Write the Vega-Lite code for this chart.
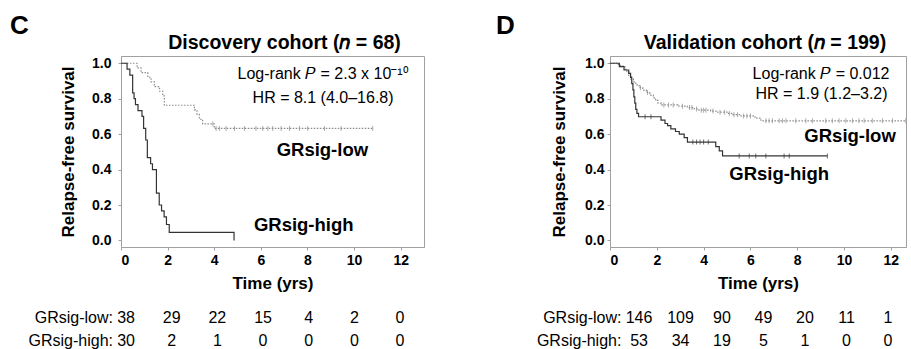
{
  "$schema": "https://vega.github.io/schema/vega-lite/v6.json",
  "padding": {"left": 10, "top": 13, "right": 0, "bottom": 0},
  "config": {
    "font": "Liberation Sans",
    "view": {"stroke": "#a0a0a0"},
    "axis": {"labelFont": "Liberation Sans", "labelFontWeight": "bold", "labelFontSize": 14, "labelColor": "black", "labelOverlap": false, "titleFont": "Liberation Sans", "titleFontSize": 17, "titleFontWeight": "bold", "titleColor": "black", "domainColor": "#a0a0a0", "tickColor": "#a0a0a0", "tickSize": 3, "grid": false},
    "title": {"font": "Liberation Sans", "color": "black"},
    "text": {"font": "Liberation Sans", "color": "black"}
  },
  "datasets": {
    "km": [
      {"panel": "C", "group": "GRsig-low", "t": 0, "s": 1},
      {"panel": "C", "group": "GRsig-low", "t": 0.69, "s": 0.974},
      {"panel": "C", "group": "GRsig-low", "t": 0.86, "s": 0.947},
      {"panel": "C", "group": "GRsig-low", "t": 1.15, "s": 0.921},
      {"panel": "C", "group": "GRsig-low", "t": 1.29, "s": 0.895},
      {"panel": "C", "group": "GRsig-low", "t": 1.43, "s": 0.868},
      {"panel": "C", "group": "GRsig-low", "t": 1.65, "s": 0.842},
      {"panel": "C", "group": "GRsig-low", "t": 1.79, "s": 0.816},
      {"panel": "C", "group": "GRsig-low", "t": 1.86, "s": 0.763},
      {"panel": "C", "group": "GRsig-low", "t": 3.15, "s": 0.737},
      {"panel": "C", "group": "GRsig-low", "t": 3.26, "s": 0.711},
      {"panel": "C", "group": "GRsig-low", "t": 3.36, "s": 0.684},
      {"panel": "C", "group": "GRsig-low", "t": 3.5, "s": 0.658},
      {"panel": "C", "group": "GRsig-low", "t": 4.0, "s": 0.632},
      {"panel": "C", "group": "GRsig-low", "t": 10.8, "s": 0.632},
      {"panel": "C", "group": "GRsig-high", "t": 0, "s": 1},
      {"panel": "C", "group": "GRsig-high", "t": 0.26, "s": 0.967},
      {"panel": "C", "group": "GRsig-high", "t": 0.38, "s": 0.933},
      {"panel": "C", "group": "GRsig-high", "t": 0.5, "s": 0.833},
      {"panel": "C", "group": "GRsig-high", "t": 0.56, "s": 0.8},
      {"panel": "C", "group": "GRsig-high", "t": 0.62, "s": 0.767},
      {"panel": "C", "group": "GRsig-high", "t": 0.73, "s": 0.733},
      {"panel": "C", "group": "GRsig-high", "t": 0.9, "s": 0.7},
      {"panel": "C", "group": "GRsig-high", "t": 0.97, "s": 0.633},
      {"panel": "C", "group": "GRsig-high", "t": 1.06, "s": 0.567},
      {"panel": "C", "group": "GRsig-high", "t": 1.13, "s": 0.467},
      {"panel": "C", "group": "GRsig-high", "t": 1.27, "s": 0.433},
      {"panel": "C", "group": "GRsig-high", "t": 1.35, "s": 0.4},
      {"panel": "C", "group": "GRsig-high", "t": 1.52, "s": 0.267},
      {"panel": "C", "group": "GRsig-high", "t": 1.64, "s": 0.2},
      {"panel": "C", "group": "GRsig-high", "t": 1.74, "s": 0.167},
      {"panel": "C", "group": "GRsig-high", "t": 1.85, "s": 0.133},
      {"panel": "C", "group": "GRsig-high", "t": 1.95, "s": 0.09},
      {"panel": "C", "group": "GRsig-high", "t": 2.07, "s": 0.045},
      {"panel": "C", "group": "GRsig-high", "t": 4.85, "s": 0.0},
      {"panel": "D", "group": "GRsig-low", "t": 0, "s": 1},
      {"panel": "D", "group": "GRsig-low", "t": 0.35, "s": 0.993},
      {"panel": "D", "group": "GRsig-low", "t": 0.45, "s": 0.986},
      {"panel": "D", "group": "GRsig-low", "t": 0.55, "s": 0.979},
      {"panel": "D", "group": "GRsig-low", "t": 0.65, "s": 0.966},
      {"panel": "D", "group": "GRsig-low", "t": 0.72, "s": 0.952},
      {"panel": "D", "group": "GRsig-low", "t": 0.8, "s": 0.925},
      {"panel": "D", "group": "GRsig-low", "t": 0.9, "s": 0.91},
      {"panel": "D", "group": "GRsig-low", "t": 1.0, "s": 0.895},
      {"panel": "D", "group": "GRsig-low", "t": 1.1, "s": 0.878},
      {"panel": "D", "group": "GRsig-low", "t": 1.25, "s": 0.862},
      {"panel": "D", "group": "GRsig-low", "t": 1.4, "s": 0.848},
      {"panel": "D", "group": "GRsig-low", "t": 1.55, "s": 0.835},
      {"panel": "D", "group": "GRsig-low", "t": 1.7, "s": 0.82},
      {"panel": "D", "group": "GRsig-low", "t": 1.85, "s": 0.805},
      {"panel": "D", "group": "GRsig-low", "t": 1.95, "s": 0.79},
      {"panel": "D", "group": "GRsig-low", "t": 2.05, "s": 0.775},
      {"panel": "D", "group": "GRsig-low", "t": 2.2, "s": 0.765},
      {"panel": "D", "group": "GRsig-low", "t": 2.9, "s": 0.758},
      {"panel": "D", "group": "GRsig-low", "t": 3.3, "s": 0.75},
      {"panel": "D", "group": "GRsig-low", "t": 3.6, "s": 0.742},
      {"panel": "D", "group": "GRsig-low", "t": 3.8, "s": 0.735},
      {"panel": "D", "group": "GRsig-low", "t": 4.3, "s": 0.73},
      {"panel": "D", "group": "GRsig-low", "t": 4.6, "s": 0.724},
      {"panel": "D", "group": "GRsig-low", "t": 5.0, "s": 0.717},
      {"panel": "D", "group": "GRsig-low", "t": 5.25, "s": 0.71},
      {"panel": "D", "group": "GRsig-low", "t": 5.6, "s": 0.703},
      {"panel": "D", "group": "GRsig-low", "t": 6.2, "s": 0.69},
      {"panel": "D", "group": "GRsig-low", "t": 6.45, "s": 0.675},
      {"panel": "D", "group": "GRsig-low", "t": 12.64, "s": 0.675},
      {"panel": "D", "group": "GRsig-high", "t": 0, "s": 1},
      {"panel": "D", "group": "GRsig-high", "t": 0.4, "s": 0.981},
      {"panel": "D", "group": "GRsig-high", "t": 0.6, "s": 0.962},
      {"panel": "D", "group": "GRsig-high", "t": 0.8, "s": 0.943},
      {"panel": "D", "group": "GRsig-high", "t": 0.88, "s": 0.92},
      {"panel": "D", "group": "GRsig-high", "t": 0.93, "s": 0.885},
      {"panel": "D", "group": "GRsig-high", "t": 0.98, "s": 0.85},
      {"panel": "D", "group": "GRsig-high", "t": 1.02, "s": 0.81},
      {"panel": "D", "group": "GRsig-high", "t": 1.06, "s": 0.775},
      {"panel": "D", "group": "GRsig-high", "t": 1.1, "s": 0.74},
      {"panel": "D", "group": "GRsig-high", "t": 1.15, "s": 0.717},
      {"panel": "D", "group": "GRsig-high", "t": 1.22, "s": 0.698},
      {"panel": "D", "group": "GRsig-high", "t": 2.18, "s": 0.679},
      {"panel": "D", "group": "GRsig-high", "t": 2.35, "s": 0.66},
      {"panel": "D", "group": "GRsig-high", "t": 2.46, "s": 0.648},
      {"panel": "D", "group": "GRsig-high", "t": 2.6, "s": 0.63},
      {"panel": "D", "group": "GRsig-high", "t": 2.8, "s": 0.615},
      {"panel": "D", "group": "GRsig-high", "t": 2.96, "s": 0.6},
      {"panel": "D", "group": "GRsig-high", "t": 3.17, "s": 0.58},
      {"panel": "D", "group": "GRsig-high", "t": 3.31, "s": 0.555},
      {"panel": "D", "group": "GRsig-high", "t": 4.52, "s": 0.53},
      {"panel": "D", "group": "GRsig-high", "t": 4.67, "s": 0.505},
      {"panel": "D", "group": "GRsig-high", "t": 4.81, "s": 0.477},
      {"panel": "D", "group": "GRsig-high", "t": 9.29, "s": 0.477}
    ],
    "cens": [
      {"panel": "C", "group": "GRsig-low", "t": 3.94, "s": 0.658},
      {"panel": "C", "group": "GRsig-low", "t": 4.08, "s": 0.632},
      {"panel": "C", "group": "GRsig-low", "t": 4.22, "s": 0.632},
      {"panel": "C", "group": "GRsig-low", "t": 4.51, "s": 0.632},
      {"panel": "C", "group": "GRsig-low", "t": 4.87, "s": 0.632},
      {"panel": "C", "group": "GRsig-low", "t": 5.3, "s": 0.632},
      {"panel": "C", "group": "GRsig-low", "t": 5.79, "s": 0.632},
      {"panel": "C", "group": "GRsig-low", "t": 6.08, "s": 0.632},
      {"panel": "C", "group": "GRsig-low", "t": 6.3, "s": 0.632},
      {"panel": "C", "group": "GRsig-low", "t": 6.51, "s": 0.632},
      {"panel": "C", "group": "GRsig-low", "t": 6.87, "s": 0.632},
      {"panel": "C", "group": "GRsig-low", "t": 7.23, "s": 0.632},
      {"panel": "C", "group": "GRsig-low", "t": 7.66, "s": 0.632},
      {"panel": "C", "group": "GRsig-low", "t": 8.01, "s": 0.632},
      {"panel": "C", "group": "GRsig-low", "t": 8.73, "s": 0.632},
      {"panel": "C", "group": "GRsig-low", "t": 9.44, "s": 0.632},
      {"panel": "C", "group": "GRsig-low", "t": 10.8, "s": 0.632},
      {"panel": "D", "group": "GRsig-high", "t": 1.5, "s": 0.698},
      {"panel": "D", "group": "GRsig-high", "t": 1.75, "s": 0.698},
      {"panel": "D", "group": "GRsig-high", "t": 3.54, "s": 0.555},
      {"panel": "D", "group": "GRsig-high", "t": 3.7, "s": 0.555},
      {"panel": "D", "group": "GRsig-high", "t": 3.85, "s": 0.555},
      {"panel": "D", "group": "GRsig-high", "t": 4.0, "s": 0.555},
      {"panel": "D", "group": "GRsig-high", "t": 4.2, "s": 0.555},
      {"panel": "D", "group": "GRsig-high", "t": 5.52, "s": 0.477},
      {"panel": "D", "group": "GRsig-high", "t": 5.95, "s": 0.477},
      {"panel": "D", "group": "GRsig-high", "t": 6.23, "s": 0.477},
      {"panel": "D", "group": "GRsig-high", "t": 6.66, "s": 0.477},
      {"panel": "D", "group": "GRsig-high", "t": 7.44, "s": 0.477},
      {"panel": "D", "group": "GRsig-high", "t": 7.66, "s": 0.477},
      {"panel": "D", "group": "GRsig-high", "t": 9.29, "s": 0.477},
      {"panel": "D", "group": "GRsig-low", "t": 1.3, "s": 0.862},
      {"panel": "D", "group": "GRsig-low", "t": 1.6, "s": 0.835},
      {"panel": "D", "group": "GRsig-low", "t": 2.3, "s": 0.765},
      {"panel": "D", "group": "GRsig-low", "t": 2.5, "s": 0.765},
      {"panel": "D", "group": "GRsig-low", "t": 2.7, "s": 0.765},
      {"panel": "D", "group": "GRsig-low", "t": 3.1, "s": 0.758},
      {"panel": "D", "group": "GRsig-low", "t": 3.4, "s": 0.75},
      {"panel": "D", "group": "GRsig-low", "t": 3.5, "s": 0.75},
      {"panel": "D", "group": "GRsig-low", "t": 3.7, "s": 0.742},
      {"panel": "D", "group": "GRsig-low", "t": 3.9, "s": 0.735},
      {"panel": "D", "group": "GRsig-low", "t": 4.0, "s": 0.735},
      {"panel": "D", "group": "GRsig-low", "t": 4.1, "s": 0.735},
      {"panel": "D", "group": "GRsig-low", "t": 4.4, "s": 0.73},
      {"panel": "D", "group": "GRsig-low", "t": 4.7, "s": 0.724},
      {"panel": "D", "group": "GRsig-low", "t": 4.9, "s": 0.724},
      {"panel": "D", "group": "GRsig-low", "t": 5.1, "s": 0.717},
      {"panel": "D", "group": "GRsig-low", "t": 5.3, "s": 0.71},
      {"panel": "D", "group": "GRsig-low", "t": 5.45, "s": 0.71},
      {"panel": "D", "group": "GRsig-low", "t": 5.7, "s": 0.703},
      {"panel": "D", "group": "GRsig-low", "t": 5.85, "s": 0.703},
      {"panel": "D", "group": "GRsig-low", "t": 6.0, "s": 0.703},
      {"panel": "D", "group": "GRsig-low", "t": 6.66, "s": 0.675},
      {"panel": "D", "group": "GRsig-low", "t": 6.8, "s": 0.675},
      {"panel": "D", "group": "GRsig-low", "t": 6.94, "s": 0.675},
      {"panel": "D", "group": "GRsig-low", "t": 7.23, "s": 0.675},
      {"panel": "D", "group": "GRsig-low", "t": 7.37, "s": 0.675},
      {"panel": "D", "group": "GRsig-low", "t": 7.52, "s": 0.675},
      {"panel": "D", "group": "GRsig-low", "t": 7.94, "s": 0.675},
      {"panel": "D", "group": "GRsig-low", "t": 8.37, "s": 0.675},
      {"panel": "D", "group": "GRsig-low", "t": 8.65, "s": 0.675},
      {"panel": "D", "group": "GRsig-low", "t": 9.22, "s": 0.675},
      {"panel": "D", "group": "GRsig-low", "t": 9.5, "s": 0.675},
      {"panel": "D", "group": "GRsig-low", "t": 9.79, "s": 0.675},
      {"panel": "D", "group": "GRsig-low", "t": 10.08, "s": 0.675},
      {"panel": "D", "group": "GRsig-low", "t": 10.36, "s": 0.675},
      {"panel": "D", "group": "GRsig-low", "t": 10.64, "s": 0.675},
      {"panel": "D", "group": "GRsig-low", "t": 10.86, "s": 0.675},
      {"panel": "D", "group": "GRsig-low", "t": 11.21, "s": 0.675},
      {"panel": "D", "group": "GRsig-low", "t": 11.64, "s": 0.675},
      {"panel": "D", "group": "GRsig-low", "t": 12.07, "s": 0.675},
      {"panel": "D", "group": "GRsig-low", "t": 12.64, "s": 0.675}
    ],
    "notes": [
      {"panel": "C", "kind": "group", "text": "GRsig-low", "t": 8.64, "s": 0.508},
      {"panel": "C", "kind": "group", "text": "GRsig-high", "t": 7.84, "s": 0.085},
      {"panel": "C", "kind": "stat", "text": "Log-rank 𝑃 = 2.3 x 10⁻¹⁰", "t": 8.67, "s": 0.938},
      {"panel": "C", "kind": "stat", "text": "HR = 8.1 (4.0–16.8)", "t": 8.67, "s": 0.802},
      {"panel": "D", "kind": "group", "text": "GRsig-low", "t": 10.26, "s": 0.59},
      {"panel": "D", "kind": "group", "text": "GRsig-high", "t": 7.23, "s": 0.376},
      {"panel": "D", "kind": "stat", "text": "Log-rank 𝑃 = 0.012", "t": 9.02, "s": 0.94},
      {"panel": "D", "kind": "stat", "text": "HR = 1.9 (1.2–3.2)", "t": 9.04, "s": 0.827}
    ],
    "risk": [
      {"panel": "C", "group": "GRsig-low", "t": 0, "n": 38},
      {"panel": "C", "group": "GRsig-low", "t": 2, "n": 29},
      {"panel": "C", "group": "GRsig-low", "t": 4, "n": 22},
      {"panel": "C", "group": "GRsig-low", "t": 6, "n": 15},
      {"panel": "C", "group": "GRsig-low", "t": 8, "n": 4},
      {"panel": "C", "group": "GRsig-low", "t": 10, "n": 2},
      {"panel": "C", "group": "GRsig-low", "t": 12, "n": 0},
      {"panel": "C", "group": "GRsig-high", "t": 0, "n": 30},
      {"panel": "C", "group": "GRsig-high", "t": 2, "n": 2},
      {"panel": "C", "group": "GRsig-high", "t": 4, "n": 1},
      {"panel": "C", "group": "GRsig-high", "t": 6, "n": 0},
      {"panel": "C", "group": "GRsig-high", "t": 8, "n": 0},
      {"panel": "C", "group": "GRsig-high", "t": 10, "n": 0},
      {"panel": "C", "group": "GRsig-high", "t": 12, "n": 0},
      {"panel": "D", "group": "GRsig-low", "t": 0, "n": 146},
      {"panel": "D", "group": "GRsig-low", "t": 2, "n": 109},
      {"panel": "D", "group": "GRsig-low", "t": 4, "n": 90},
      {"panel": "D", "group": "GRsig-low", "t": 6, "n": 49},
      {"panel": "D", "group": "GRsig-low", "t": 8, "n": 20},
      {"panel": "D", "group": "GRsig-low", "t": 10, "n": 11},
      {"panel": "D", "group": "GRsig-low", "t": 12, "n": 1},
      {"panel": "D", "group": "GRsig-high", "t": 0, "n": 53},
      {"panel": "D", "group": "GRsig-high", "t": 2, "n": 34},
      {"panel": "D", "group": "GRsig-high", "t": 4, "n": 19},
      {"panel": "D", "group": "GRsig-high", "t": 6, "n": 5},
      {"panel": "D", "group": "GRsig-high", "t": 8, "n": 1},
      {"panel": "D", "group": "GRsig-high", "t": 10, "n": 0},
      {"panel": "D", "group": "GRsig-high", "t": 12, "n": 0}
    ],
    "riskLabels": [
      {"group": "GRsig-low", "label": "GRsig-low:"},
      {"group": "GRsig-high", "label": "GRsig-high:"}
    ]
  },
  "bounds": "full",
  "spacing": 71,
  "hconcat": [
    {
      "bounds": "flush",
      "spacing": 60,
      "title": {"text": "C", "fontSize": 26, "fontWeight": "bold", "anchor": "start", "frame": "group", "dx": -111, "offset": -7},
      "vconcat": [
        {
          "width": 303,
          "height": 191,
          "title": {"text": "Discovery cohort (𝑛 = 68)", "fontSize": 19.5, "fontWeight": "bold", "anchor": "middle", "dx": 12, "offset": 3},
          "encoding": {
            "x": {"field": "t", "type": "quantitative", "scale": {"domain": [0, 13], "nice": false, "zero": false}, "axis": {"values": [0, 2, 4, 6, 8, 10, 12], "title": "Time (yrs)", "labelPadding": 3, "titlePadding": 8, "labelOverlap": false}},
            "y": {"field": "s", "type": "quantitative", "scale": {"domain": [-0.037, 1.041], "nice": false, "zero": false}, "axis": {"values": [0, 0.2, 0.4, 0.6, 0.8, 1.0], "format": ".1f", "title": "Relapse-free survival", "labelPadding": 7, "titlePadding": 14, "labelOverlap": false}}
          },
          "layer": [
            {
              "data": {"name": "km"},
              "transform": [{"filter": "datum.panel === 'C'"}],
              "mark": {"type": "line", "interpolate": "step-after", "strokeWidth": 1.2},
              "encoding": {
                "color": {"field": "group", "type": "nominal", "scale": {"domain": ["GRsig-low", "GRsig-high"], "range": ["#8a8a8a", "#333333"]}, "legend": null},
                "strokeDash": {"field": "group", "type": "nominal", "scale": {"domain": ["GRsig-low", "GRsig-high"], "range": [[1.5, 1.5], [1, 0]]}, "legend": null}
              }
            },
            {
              "data": {"name": "cens"},
              "transform": [{"filter": "datum.panel === 'C'"}],
              "mark": {"type": "tick", "orient": "vertical", "size": 5, "thickness": 1},
              "encoding": {
                "color": {"field": "group", "type": "nominal", "legend": null}
              }
            },
            {
              "data": {"name": "notes"},
              "transform": [{"filter": "datum.panel === 'C' && datum.kind === 'group'"}],
              "mark": {"type": "text", "fontSize": 18.5, "fontWeight": "bold", "baseline": "middle"},
              "encoding": {"text": {"field": "text"}}
            },
            {
              "data": {"name": "notes"},
              "transform": [{"filter": "datum.panel === 'C' && datum.kind === 'stat'"}],
              "mark": {"type": "text", "fontSize": 16, "baseline": "middle"},
              "encoding": {"text": {"field": "text"}}
            }
          ]
        },
        {
          "width": 303,
          "height": 45,
          "view": {"stroke": null},
          "encoding": {
            "y": {"field": "group", "type": "nominal", "sort": ["GRsig-low", "GRsig-high"], "axis": null}
          },
          "layer": [
            {
              "data": {"name": "risk"},
              "transform": [{"filter": "datum.panel === 'C'"}],
              "mark": {"type": "text", "fontSize": 16, "baseline": "middle"},
              "encoding": {
                "x": {"field": "t", "type": "quantitative", "scale": {"domain": [-0.22, 13.05], "nice": false, "zero": false}, "axis": null},
                "text": {"field": "n", "type": "quantitative"}
              }
            },
            {
              "data": {"name": "riskLabels"},
              "mark": {"type": "text", "fontSize": 16, "align": "right", "baseline": "middle"},
              "encoding": {
                "x": {"datum": -0.57},
                "text": {"field": "label"}
              }
            }
          ]
        }
      ]
    },
    {
      "bounds": "flush",
      "spacing": 60,
      "title": {"text": "D", "fontSize": 26, "fontWeight": "bold", "anchor": "start", "frame": "group", "dx": -114, "offset": -7},
      "vconcat": [
        {
          "width": 296,
          "height": 191,
          "title": {"text": "Validation cohort (𝑛 = 199)", "fontSize": 19.5, "fontWeight": "bold", "anchor": "middle", "dx": 7, "offset": 3},
          "encoding": {
            "x": {"field": "t", "type": "quantitative", "scale": {"domain": [0, 12.65], "nice": false, "zero": false}, "axis": {"values": [0, 2, 4, 6, 8, 10, 12], "title": "Time (yrs)", "labelPadding": 3, "titlePadding": 8, "labelOverlap": false}},
            "y": {"field": "s", "type": "quantitative", "scale": {"domain": [-0.037, 1.041], "nice": false, "zero": false}, "axis": {"values": [0, 0.2, 0.4, 0.6, 0.8, 1.0], "format": ".1f", "title": "Relapse-free survival", "labelPadding": 3, "titlePadding": 16, "labelOverlap": false}}
          },
          "layer": [
            {
              "data": {"name": "km"},
              "transform": [{"filter": "datum.panel === 'D'"}],
              "mark": {"type": "line", "interpolate": "step-after", "strokeWidth": 1.2},
              "encoding": {
                "color": {"field": "group", "type": "nominal", "scale": {"domain": ["GRsig-low", "GRsig-high"], "range": ["#8a8a8a", "#333333"]}, "legend": null},
                "strokeDash": {"field": "group", "type": "nominal", "scale": {"domain": ["GRsig-low", "GRsig-high"], "range": [[1.5, 1.5], [1, 0]]}, "legend": null}
              }
            },
            {
              "data": {"name": "cens"},
              "transform": [{"filter": "datum.panel === 'D'"}],
              "mark": {"type": "tick", "orient": "vertical", "size": 5, "thickness": 1},
              "encoding": {
                "color": {"field": "group", "type": "nominal", "legend": null}
              }
            },
            {
              "data": {"name": "notes"},
              "transform": [{"filter": "datum.panel === 'D' && datum.kind === 'group'"}],
              "mark": {"type": "text", "fontSize": 18.5, "fontWeight": "bold", "baseline": "middle"},
              "encoding": {"text": {"field": "text"}}
            },
            {
              "data": {"name": "notes"},
              "transform": [{"filter": "datum.panel === 'D' && datum.kind === 'stat'"}],
              "mark": {"type": "text", "fontSize": 16, "baseline": "middle"},
              "encoding": {"text": {"field": "text"}}
            }
          ]
        },
        {
          "width": 296,
          "height": 45,
          "view": {"stroke": null},
          "encoding": {
            "y": {"field": "group", "type": "nominal", "sort": ["GRsig-low", "GRsig-high"], "axis": null}
          },
          "layer": [
            {
              "data": {"name": "risk"},
              "transform": [{"filter": "datum.panel === 'D'"}],
              "mark": {"type": "text", "fontSize": 16, "baseline": "middle"},
              "encoding": {
                "x": {"field": "t", "type": "quantitative", "scale": {"domain": [-1.4, 12.87], "nice": false, "zero": false}, "axis": null},
                "text": {"field": "n", "type": "quantitative"}
              }
            },
            {
              "data": {"name": "riskLabels"},
              "mark": {"type": "text", "fontSize": 16, "align": "right", "baseline": "middle"},
              "encoding": {
                "x": {"datum": -0.85},
                "text": {"field": "label"}
              }
            }
          ]
        }
      ]
    }
  ]
}
